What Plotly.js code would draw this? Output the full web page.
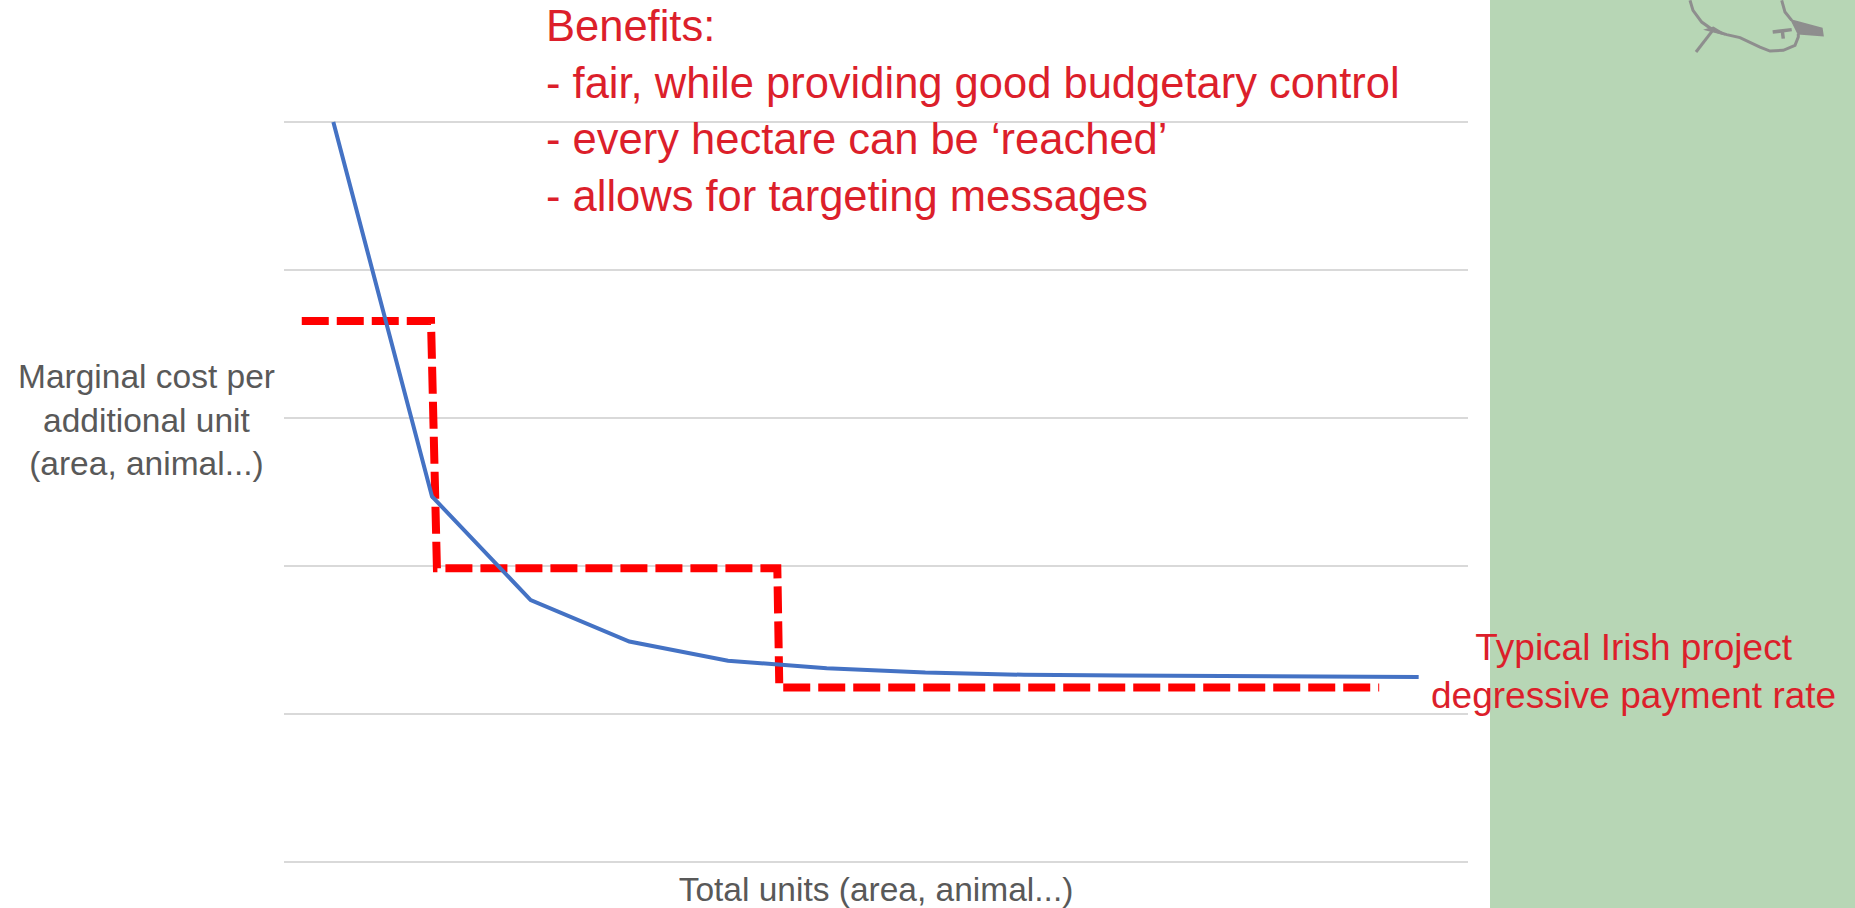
<!DOCTYPE html>
<html>
<head>
<meta charset="utf-8">
<script src="https://cdn.plot.ly/plotly-3.0.1.min.js"></script>
<style>
html,body{margin:0;padding:0;background:#ffffff;overflow:hidden}
#chart{width:1855px;height:908px}
</style>
</head>
<body>
<div id="chart"></div>
<script>
// ---- data ----
const units = [1, 2, 3, 4, 5, 6, 7, 8, 9, 10, 11, 12];
const marginalCost = [5.0, 2.47, 1.77, 1.49, 1.36, 1.31, 1.28, 1.265, 1.26, 1.255, 1.252, 1.25];
const paymentX = [0.68, 1.99, 2.05, 5.50, 5.52, 11.60];
const paymentY = [3.655, 3.655, 1.985, 1.985, 1.18, 1.18];
const gridValues = [0, 1, 2, 3, 4, 5];
const benefitsLines = ["Benefits:", "- fair, while providing good budgetary control", "- every hectare can be \u2018reached\u2019", "- allows for targeting messages"];
const yTitleLines = ["Marginal cost per", "additional unit", "(area, animal...)"];
const xTitleText = "Total units (area, animal...)";
const rateLabelLines = ["Typical Irish project", "degressive payment rate"];

// ---- page geometry ----
const W = 1855, H = 908;
const M = {l: 284, r: 387, t: 118.7, b: 43};
const PW = W - M.l - M.r, PH = H - M.t - M.b;
const px = x => ((x - M.l) / PW).toFixed(5);
const py = y => ((H - M.b - y) / PH).toFixed(5);
const pathOf = pts => pts.map((p, i) => (i ? 'L' : 'M') + px(p[0]) + ',' + py(p[1])).join(' ');

const FONT = '"Liberation Sans", Arial, sans-serif';
const RED_TEXT = '#dc1f2b';
const GREY_TEXT = '#595959';

// decorative sketch (top right)
const sketchBody = [[1690,0],[1693,10],[1701.7,21.7],[1713.3,30],[1726.7,34.3],[1740,37.3],[1760,46.7],[1770,50.7],[1783.3,50],[1795,45],[1798.3,36.7],[1798.3,33.3]];
const sketchTop = [[1791.7,20],[1785,11.7],[1781.7,0]];
const sketchBeak = [[1791.7,20],[1821.7,28.3],[1822.7,35],[1798.3,33.3]];
const sketchLeg = [[1713.3,29.3],[1696,51.7]];
const sketchFoot = [[1706.7,29.3],[1713.3,27.3],[1725,34.3]];
const sketchT1 = [[1772.7,31.7],[1791.7,29.3]];
const sketchT2 = [[1782.3,30.7],[1783.3,38.3]];
const SK = '#8e8e8e';

const traces = [
  {
    x: paymentX, y: paymentY, type: 'scatter', mode: 'lines',
    line: {color: '#ff0000', width: 8, dash: '27px,8px'},
    hoverinfo: 'skip', showlegend: false
  },
  {
    x: units, y: marginalCost, type: 'scatter', mode: 'lines',
    line: {color: '#4472c4', width: 4},
    hoverinfo: 'skip', showlegend: false
  }
];

const layout = {
  width: W, height: H,
  margin: M,
  paper_bgcolor: '#ffffff',
  plot_bgcolor: '#ffffff',
  showlegend: false,
  hovermode: false,
  font: {family: FONT},
  xaxis: {
    range: [0.5, 12.5],
    showgrid: false, zeroline: false, showline: false,
    showticklabels: false, ticks: '',
    fixedrange: true,
    title: {text: xTitleText, font: {family: FONT, size: 33.5, color: GREY_TEXT}, standoff: 14}
  },
  yaxis: {
    range: [-0.02, 5.02],
    tickvals: gridValues,
    showgrid: true, gridcolor: '#d9d9d9', gridwidth: 1.5,
    zeroline: false, showline: false,
    showticklabels: false, ticks: '',
    fixedrange: true
  },
  shapes: [
    {type: 'rect', xref: 'paper', yref: 'paper', x0: px(1490), x1: px(1900), y0: py(950), y1: py(-40),
     fillcolor: '#b7d6b5', line: {width: 0}, layer: 'below'},
    {type: 'path', xref: 'paper', yref: 'paper', path: pathOf(sketchBody), line: {color: SK, width: 3}},
    {type: 'path', xref: 'paper', yref: 'paper', path: pathOf(sketchTop), line: {color: SK, width: 3}},
    {type: 'path', xref: 'paper', yref: 'paper', path: pathOf(sketchBeak) + ' Z', fillcolor: SK, line: {color: SK, width: 2}},
    {type: 'path', xref: 'paper', yref: 'paper', path: pathOf(sketchLeg), line: {color: SK, width: 3}},
    {type: 'path', xref: 'paper', yref: 'paper', path: pathOf(sketchFoot) + ' Z', fillcolor: SK, line: {color: SK, width: 2}},
    {type: 'path', xref: 'paper', yref: 'paper', path: pathOf(sketchT1), line: {color: SK, width: 3.5}},
    {type: 'path', xref: 'paper', yref: 'paper', path: pathOf(sketchT2), line: {color: SK, width: 3.5}}
  ],
  annotations: [
    {text: benefitsLines.join('<br>'), xref: 'paper', yref: 'paper',
     x: px(544), y: py(110.5), xanchor: 'left', yanchor: 'middle', align: 'left',
     showarrow: false, font: {family: FONT, size: 43.5, color: RED_TEXT}},
    {text: yTitleLines.join('<br>'), xref: 'paper', yref: 'paper',
     x: px(147), y: py(420), xanchor: 'center', yanchor: 'middle', align: 'center',
     showarrow: false, font: {family: FONT, size: 33.5, color: GREY_TEXT}},
    {text: rateLabelLines.join('<br>'), xref: 'paper', yref: 'paper',
     x: px(1634), y: py(671), xanchor: 'center', yanchor: 'middle', align: 'center',
     showarrow: false, font: {family: FONT, size: 37, color: RED_TEXT}}
  ]
};

Plotly.newPlot('chart', traces, layout, {displayModeBar: false, staticPlot: true});
</script>
</body>
</html>
